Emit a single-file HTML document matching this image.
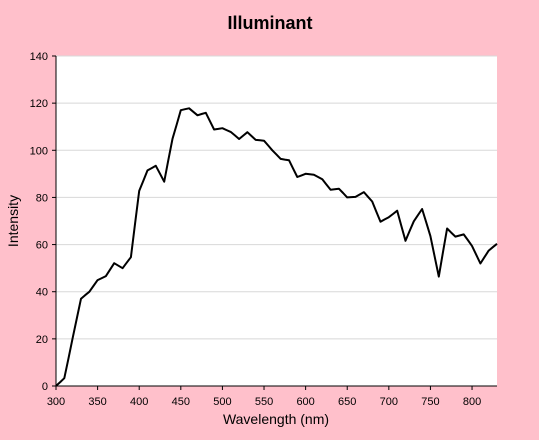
<!DOCTYPE html>
<html><head><meta charset="utf-8"><style>
html,body{margin:0;padding:0;background:#ffc0cb;}
svg{display:block;font-family:"Liberation Sans",sans-serif;}
</style></head><body>
<svg id="chart" width="539" height="440">
<rect x="0" y="0" width="539" height="440" fill="#ffc0cb"/>
<text x="270" y="29" text-anchor="middle" font-size="18" font-weight="bold">Illuminant</text>
<rect x="56" y="56" width="441" height="330" fill="#fff"/>
<g id="grid"></g><g id="axes"></g>
<text x="276" y="424" text-anchor="middle" font-size="14">Wavelength (nm)</text>
<text x="18" y="221" text-anchor="middle" font-size="14" transform="rotate(-90 18 221)">Intensity</text>
</svg>
<script>
const wavelengths=[];for(let w=300;w<=830;w+=5)wavelengths.push(w);
const intensity=[0.0341,1.6643,3.2945,11.7652,20.236,28.6447,37.0535,38.5011,39.9488,42.4302,44.9117,45.775,46.6383,49.3637,52.0891,51.0323,49.9755,52.3118,54.6482,68.7015,82.7549,87.1204,91.486,92.4589,93.4318,90.057,86.6823,95.7736,104.865,110.936,117.008,117.41,117.812,116.336,114.861,115.392,115.923,112.367,108.811,109.082,109.354,108.578,107.802,106.296,104.79,106.239,107.689,106.047,104.405,104.225,104.046,102.023,100,98.1671,96.3342,96.0611,95.788,92.2368,88.6856,89.3459,90.0062,89.8026,89.5991,88.6489,87.6987,85.4936,83.2886,83.4939,83.6992,81.863,80.0268,80.1207,80.2146,81.2462,82.2778,80.281,78.2842,74.0027,69.7213,70.6652,71.6091,72.979,74.349,67.9765,61.604,65.7448,69.8856,72.4863,75.087,69.3398,63.5927,55.0054,46.4182,56.6118,66.8054,65.0941,63.3828,63.8434,64.304,61.8779,59.4519,55.7054,51.959,54.6998,57.4406,58.8765,60.3125];
const xTicks=[300,350,400,450,500,550,600,650,700,750,800];
const yTicks=[0,20,40,60,80,100,120,140];
const L=56,R=497,T=56,B=386,xmin=300,xmax=830,ymin=0,ymax=140;
const xs=v=>L+(v-xmin)/(xmax-xmin)*(R-L);
const ys=v=>B-(v-ymin)/(ymax-ymin)*(B-T);
const NS='http://www.w3.org/2000/svg';
const svg=document.getElementById('chart'),grid=document.getElementById('grid'),axes=document.getElementById('axes');
function mk(tag,attrs,parent){const e=document.createElementNS(NS,tag);for(const k in attrs)e.setAttribute(k,attrs[k]);parent.appendChild(e);return e;}
yTicks.forEach(t=>{
 const y=ys(t);
 if(t>0){const g=mk('line',{x1:L,x2:R,y1:y,y2:y,stroke:'#d8d8d8','stroke-width':1},grid);
 
 }
 const tk=mk('line',{x1:L-4,x2:L,y1:y,y2:y,stroke:'#000'},axes);
 
 
 const tx=mk('text',{x:L-8,y:y+4,'text-anchor':'end','font-size':11},axes);tx.textContent=t;
 
 
});
xTicks.forEach(t=>{
 const x=xs(t);
 const tk=mk('line',{x1:x,x2:x,y1:B,y2:B+4,stroke:'#000'},axes);
 
 
 const tx=mk('text',{x:x,y:B+19,'text-anchor':'middle','font-size':11},axes);tx.textContent=t;
 
 
});
const ax=mk('path',{d:`M${L},${T}V${B}H${R}`,fill:'none',stroke:'#000','stroke-width':1},axes);


const d=wavelengths.map((w,i)=>(i?'L':'M')+xs(w).toFixed(1)+','+ys(intensity[i]).toFixed(1)).join('');
const line=mk('path',{d:d,fill:'none',stroke:'#000','stroke-width':2,'stroke-linejoin':'round'},svg);


</script>
</body></html>
